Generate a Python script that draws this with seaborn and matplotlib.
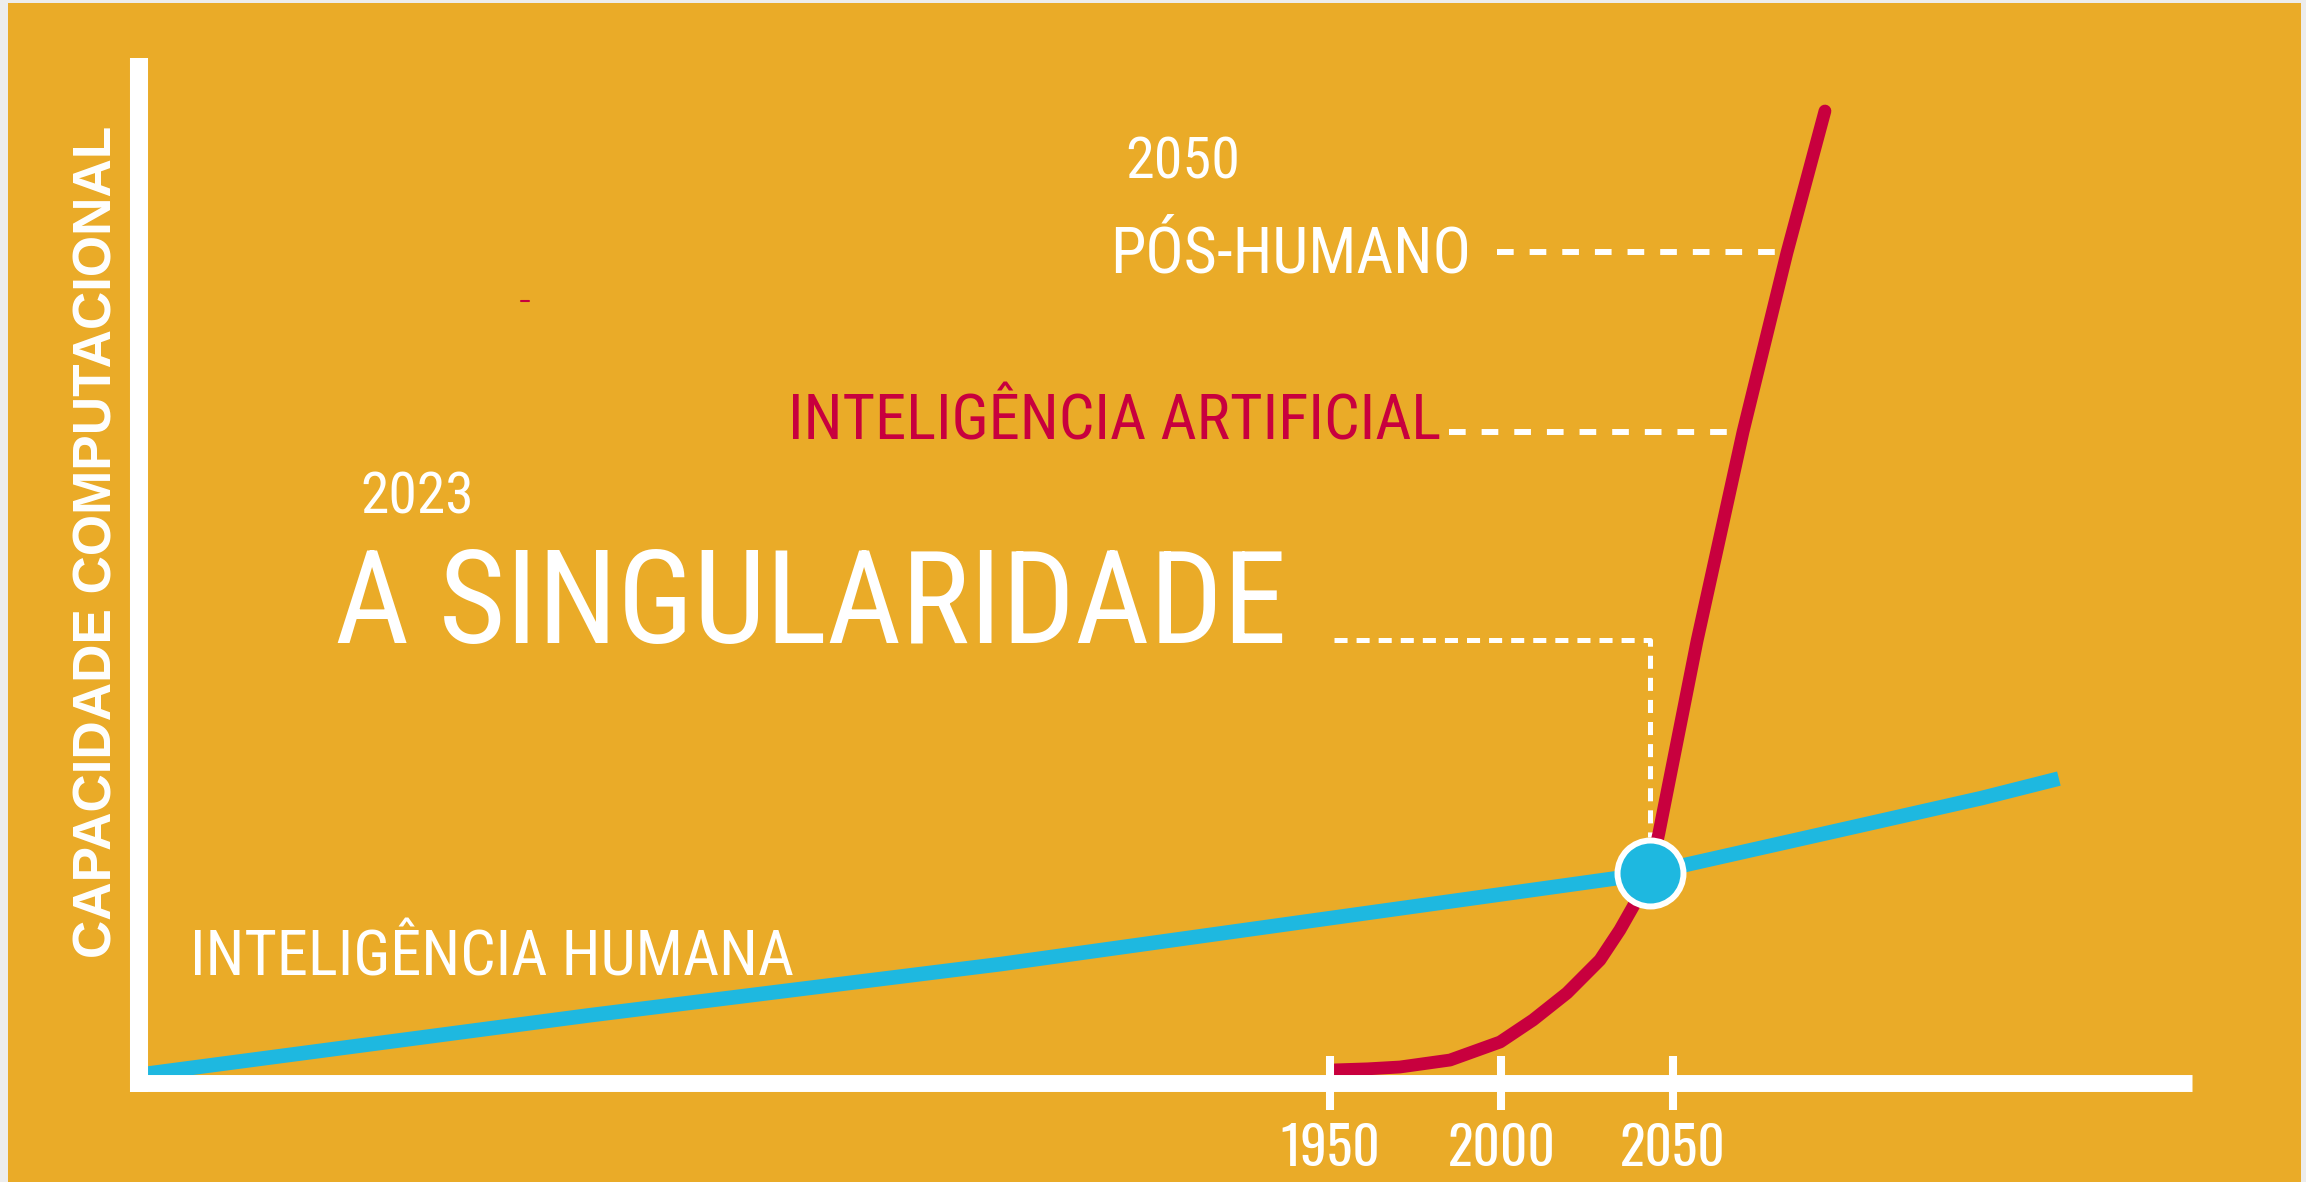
import matplotlib
matplotlib.use('Agg')
import matplotlib.pyplot as plt
import seaborn as sns
from matplotlib import font_manager
from matplotlib.font_manager import FontProperties

# Dados (ano x capacidade computacional, escala arbitraria 0-100)
anos_humana = [1605, 1734, 1854, 2034, 2043.3, 2099, 2140, 2162.5]
cap_humana = [0.9, 6.6, 11.6, 20.0, 20.5, 24.7, 27.8, 29.7]

anos_ia = [1950.9, 1961.0, 1970.4, 1985.0, 1999.6, 2009.2, 2019.1, 2028.7, 2034.5,
           2038.3, 2043.3, 2045.9, 2057.0, 2070.4, 2083.2, 2094.3]
cap_ia = [1.27, 1.38, 1.56, 2.24, 4.0, 6.15, 8.78, 12.0, 14.93,
          17.17, 20.49, 24.39, 43.12, 63.51, 80.98, 94.83]

# ponto da singularidade
ano_sing = 2043.3
cap_sing = 20.5

# niveis das linhas tracejadas
nivel_pos_humano = 81.1
nivel_ia = 63.5
nivel_sing = 43.2

anos_ticks = [1950, 2000, 2050]
rotulos_ticks = ['1950', '2000', '2050']

FUNDO = '#EAAB28'
VERMELHO = '#C8003E'
AZUL = '#1EB8E0'
BRANCO = 'white'

sns.set_style('white')
nomes = {f.name for f in font_manager.fontManager.ttflist}


def primeira(cands):
    return next(c for c in cands if c in nomes)


NARROW = primeira(['Liberation Sans Narrow', 'Arial Narrow', 'Nimbus Sans Narrow',
                   'Roboto Condensed', 'Archivo Narrow', 'Liberation Sans'])
TICKFONT = primeira(['Oswald', 'Roboto Condensed', NARROW])
plt.rcParams['font.family'] = [NARROW, 'DejaVu Sans']
plt.rcParams['lines.scale_dashes'] = False

W, H = 2306, 1182
fig = plt.figure(figsize=(W / 100, H / 100), dpi=100, facecolor='#EDEDED')
ax = fig.add_axes([8 / W, 0, 2293 / W, 1179 / H])
ax.set_facecolor(FUNDO)
renderer = fig.canvas.get_renderer()


def tamanho_para_largura(texto, largura, fp=None):
    # ajusta o tamanho da fonte para a largura medida na imagem
    fp = FontProperties(family=[NARROW, 'DejaVu Sans']) if fp is None else fp.copy()
    fp.set_size(50)
    t = fig.text(0, 0, texto, fontproperties=fp)
    w = t.get_window_extent(renderer).width
    t.remove()
    return 50 * largura / w


# curvas
sns.lineplot(x=anos_humana, y=cap_humana, ax=ax, color=AZUL, linewidth=10.5,
             sort=False, solid_capstyle='butt', zorder=2)
sns.lineplot(x=anos_ia, y=cap_ia, ax=ax, color=VERMELHO, linewidth=9.2,
             sort=False, solid_capstyle='round', solid_joinstyle='round', zorder=2.2)

# linhas tracejadas
ax.plot([1998.7, 2080.3], [nivel_pos_humano] * 2, color=BRANCO, lw=4.3,
        dashes=(12, 11.5), zorder=1.5)
ax.plot([1984.7, 2068.1], [nivel_ia] * 2, color=BRANCO, lw=4.3,
        dashes=(12, 11.5), zorder=1.5)
ax.plot([1951.2, ano_sing, ano_sing], [nivel_sing, nivel_sing, 24.0],
        color=BRANCO, lw=3.6, dashes=(9.4, 6.5), zorder=1.5)

# ponto da singularidade
sns.scatterplot(x=[ano_sing], y=[cap_sing], ax=ax, s=2256, color=AZUL,
                edgecolor=BRANCO, linewidth=4.3, zorder=6, legend=False)

# pequeno traco vermelho
ax.plot([1714, 1716.5], [76.3, 76.3], color=VERMELHO, lw=1.5)

# textos
textos = [
    ('2050', 1890.2, 88.2, BRANCO, 115),
    ('PÓS-HUMANO', 1885.9, 79.1, BRANCO, 361),
    ('INTELIGÊNCIA ARTIFICIAL', 1792.0, 62.8, VERMELHO, 655),
    ('2023', 1667.2, 55.6, BRANCO, 114),
    ('A SINGULARIDADE', 1659.9, 42.9, BRANCO, 953),
    ('INTELIGÊNCIA HUMANA', 1617.6, 10.5, BRANCO, 606),
]
for txt, xa, ya, cor, larg in textos:
    ax.text(xa, ya, txt, color=cor, fontsize=tamanho_para_largura(txt, larg),
            ha='left', va='baseline')

# eixos (spines) -- antes dos ticks, pois set_position recria os ticks
for s in ['top', 'right']:
    ax.spines[s].set_visible(False)
ax.spines['left'].set_position(('data', 1602.8))
ax.spines['left'].set_bounds(-0.88, 100)
ax.spines['left'].set_linewidth(13)
ax.spines['left'].set_color(BRANCO)
ax.spines['left'].set_capstyle('butt')
ax.spines['bottom'].set_position(('data', 0.0))
ax.spines['bottom'].set_bounds(1600.2, 2201.2)
ax.spines['bottom'].set_linewidth(12.2)
ax.spines['bottom'].set_color(BRANCO)
ax.spines['bottom'].set_capstyle('butt')

# rotulo do eixo y (fonte larga, negrito)
fp_label = FontProperties(family=['Liberation Sans', 'DejaVu Sans'], weight='bold')
fp_label.set_size(tamanho_para_largura('CAPACIDADE COMPUTACIONAL', 834, fp_label))
ax.set_ylabel('CAPACIDADE COMPUTACIONAL', color=BRANCO)
ax.yaxis.label.set_fontproperties(fp_label)
ax.yaxis.set_label_coords(90 / 2293, 1 - (542 - 3) / 1179)
ax.yaxis.label.set_va('center')

# escalas e ticks
ax.set_xlim(1564.58, 2233.09)
ax.set_ylim(-9.66, 105.37)
ax.set_axisbelow(False)
ax.set_yticks([])
ax.set_xlabel('')
ax.tick_params(axis='x', bottom=True, direction='inout', length=39, width=5.8,
               color=BRANCO, labelcolor=BRANCO, pad=9)
fp_ticks = FontProperties(family=[TICKFONT, 'DejaVu Sans'])
fp_ticks.set_size(tamanho_para_largura('2000', 108, fp_ticks))
ax.set_xticks(anos_ticks)
ax.set_xticklabels(rotulos_ticks, fontproperties=fp_ticks, color=BRANCO)

fig.savefig('out.png', dpi=100, facecolor=fig.get_facecolor())
